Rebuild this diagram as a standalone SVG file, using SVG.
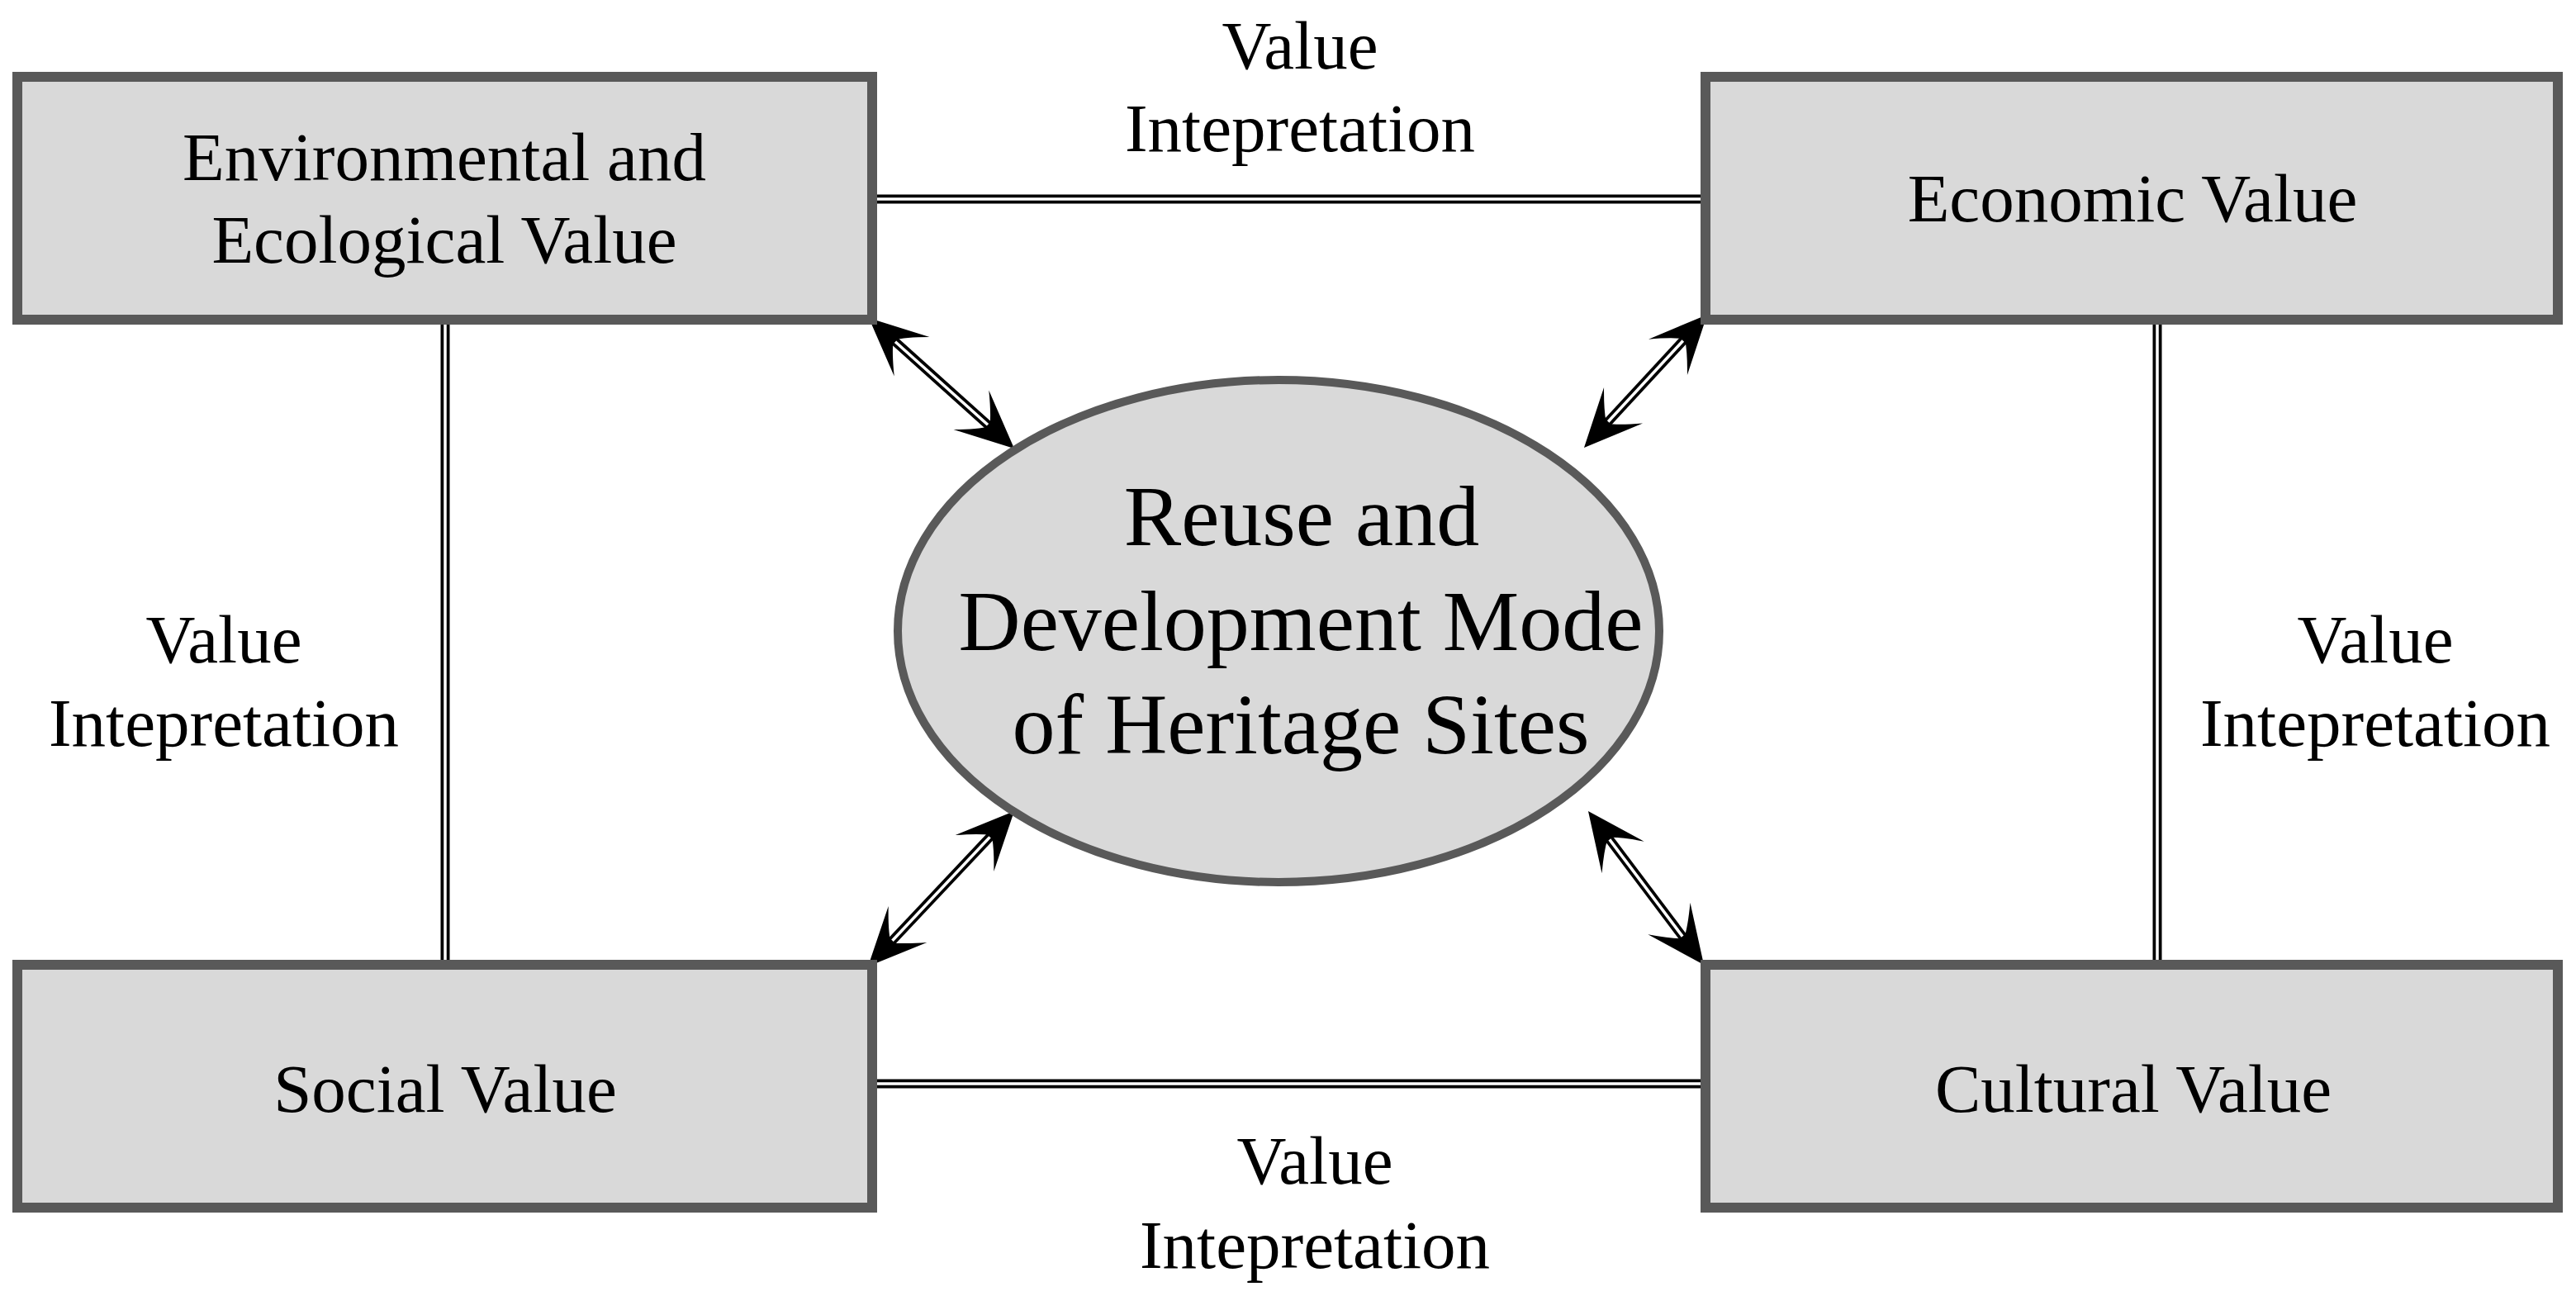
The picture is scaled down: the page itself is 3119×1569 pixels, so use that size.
<svg xmlns="http://www.w3.org/2000/svg" xmlns:xlink="http://www.w3.org/1999/xlink" width="3119" height="1569" viewBox="0 0 3119 1569">
<style>
  .box { fill: #d9d9d9; stroke: #595959; stroke-width: 12; }
  .ell { fill: #d9d9d9; stroke: #595959; stroke-width: 10; }
  .t { font-family: "Liberation Serif", "Times New Roman", serif; font-size: 83px; fill: #000; text-anchor: middle; }
  .tc { font-family: "Liberation Serif", "Times New Roman", serif; font-size: 104px; fill: #000; text-anchor: middle; }
  .dl-o { stroke: #000; stroke-width: 11; fill: none; }
  .dl-i { stroke: #fff; stroke-width: 3.5; fill: none; }
  .ar-o { stroke: #000; stroke-width: 11; fill: none; }
  .ar-i { stroke: #fff; stroke-width: 3.5; fill: none; }
</style>
<defs>
  <path id="head" d="M0,0 L70,-32 Q48,-12 40,0 Q48,12 70,32 Z" fill="#000"/>
</defs>
<rect width="3119" height="1569" fill="#fff"/>

<g id="connectors">
  <!-- double lines -->
  <line class="dl-o" x1="1061" y1="241" x2="2060" y2="241"/>
  <line class="dl-i" x1="1061" y1="241" x2="2060" y2="241"/>
  <line class="dl-o" x1="1061" y1="1312" x2="2060" y2="1312"/>
  <line class="dl-i" x1="1061" y1="1312" x2="2060" y2="1312"/>
  <line class="dl-o" x1="539" y1="393" x2="539" y2="1162"/>
  <line class="dl-i" x1="539" y1="393" x2="539" y2="1162"/>
  <line class="dl-o" x1="2612" y1="393" x2="2612" y2="1163"/>
  <line class="dl-i" x1="2612" y1="393" x2="2612" y2="1163"/>

  <!-- arrows -->
  <g transform="translate(1052,385) rotate(41.91)">
    <line class="ar-o" x1="25" y1="0" x2="211.5" y2="0"/>
    <line class="ar-i" x1="43" y1="0" x2="193.5" y2="0"/>
    <use xlink:href="#head"/>
    <use xlink:href="#head" transform="translate(236.5,0) scale(-1,1)"/>
  </g>
  <g transform="translate(2067,381) rotate(132.78)">
    <line class="ar-o" x1="25" y1="0" x2="194.4" y2="0"/>
    <line class="ar-i" x1="43" y1="0" x2="176.4" y2="0"/>
    <use xlink:href="#head"/>
    <use xlink:href="#head" transform="translate(219.4,0) scale(-1,1)"/>
  </g>
  <g transform="translate(1051,1170) rotate(-46.72)">
    <line class="ar-o" x1="25" y1="0" x2="233.2" y2="0"/>
    <line class="ar-i" x1="43" y1="0" x2="215.2" y2="0"/>
    <use xlink:href="#head"/>
    <use xlink:href="#head" transform="translate(258.2,0) scale(-1,1)"/>
  </g>
  <g transform="translate(2063,1168) rotate(-126.97)">
    <line class="ar-o" x1="25" y1="0" x2="207.8" y2="0"/>
    <line class="ar-i" x1="43" y1="0" x2="189.8" y2="0"/>
    <use xlink:href="#head"/>
    <use xlink:href="#head" transform="translate(232.8,0) scale(-1,1)"/>
  </g>

  <!-- labels -->
  <g id="label-top">
    <text class="t" x="1574" y="83">Value</text>
    <text class="t" x="1574" y="183">Intepretation</text>
  </g>
  <g id="label-left">
    <text class="t" x="271" y="802">Value</text>
    <text class="t" x="271" y="903">Intepretation</text>
  </g>
  <g id="label-right">
    <text class="t" x="2876" y="802">Value</text>
    <text class="t" x="2876" y="903">Intepretation</text>
  </g>
  <g id="label-bottom">
    <text class="t" x="1592" y="1433">Value</text>
    <text class="t" x="1592" y="1535">Intepretation</text>
  </g>
</g>

<g id="node-environmental">
  <rect class="box" x="21" y="93" width="1035" height="294"/>
  <text class="t" x="538" y="218">Environmental and</text>
  <text class="t" x="538" y="318">Ecological Value</text>
</g>
<g id="node-economic">
  <rect class="box" x="2065" y="93" width="1032" height="294"/>
  <text class="t" x="2582" y="268">Economic Value</text>
</g>
<g id="node-social">
  <rect class="box" x="21" y="1168" width="1035" height="294"/>
  <text class="t" x="539" y="1346">Social Value</text>
</g>
<g id="node-cultural">
  <rect class="box" x="2065" y="1168" width="1032" height="294"/>
  <text class="t" x="2583" y="1346">Cultural Value</text>
</g>
<g id="node-center">
  <ellipse class="ell" cx="1548" cy="764" rx="461" ry="304"/>
  <text class="tc" x="1576" y="660">Reuse and</text>
  <text class="tc" x="1575" y="787">Development Mode</text>
  <text class="tc" x="1575" y="912">of Heritage Sites</text>
</g>
</svg>
